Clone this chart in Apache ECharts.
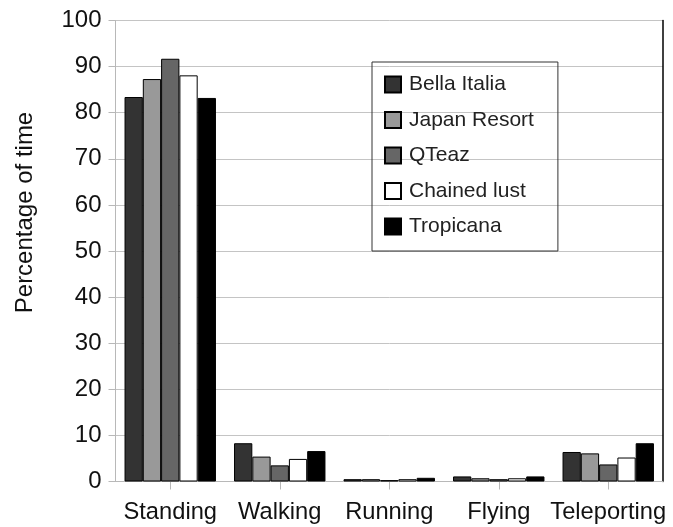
<!DOCTYPE html>
<html>
<head>
<meta charset="utf-8">
<script src="https://cdn.jsdelivr.net/npm/echarts@6/dist/echarts.min.js"></script>
<style>
html,body{margin:0;padding:0;background:#fff;}
#chart{width:673px;height:527px;}
</style>
</head>
<body>
<div id="chart"></div>
<script>
var categories = ['Standing', 'Walking', 'Running', 'Flying', 'Teleporting'];
var seriesNames = ['Bella Italia', 'Japan Resort', 'QTeaz', 'Chained lust', 'Tropicana'];
var bellaItalia = [83.4, 8.3, 0.5, 1.1, 6.4];
var japanResort = [87.3, 5.4, 0.5, 0.7, 6.1];
var qteaz = [91.7, 3.5, 0.3, 0.5, 3.7];
var chainedLust = [88.1, 4.9, 0.5, 0.7, 5.2];
var tropicana = [83.2, 6.6, 0.8, 1.1, 8.3];
var yTicks = [0, 10, 20, 30, 40, 50, 60, 70, 80, 90, 100];

var seriesValues = [bellaItalia, japanResort, qteaz, chainedLust, tropicana];
var colors = ['#333333', '#999999', '#666666', '#ffffff', '#000000'];
var font = 'Liberation Sans, Arial, sans-serif';

var chart = echarts.init(document.getElementById('chart'), null, {renderer: 'canvas'});
var series = seriesNames.map(function (name, i) {
  return {
    name: name,
    type: 'bar',
    data: seriesValues[i],
    barGap: '0%',
    barCategoryGap: '16.5%',
    itemStyle: {color: colors[i], borderColor: '#000', borderWidth: 1}
  };
});
chart.setOption({
  animation: false,
  backgroundColor: '#fff',
  grid: {left: 115.5, right: 10, top: 20.5, bottom: 45.5, containLabel: false},
  legend: {
    orient: 'vertical',
    left: 372,
    top: 62,
    itemWidth: 16,
    itemHeight: 16,
    itemGap: 14.5,
    padding: [12, 24, 14, 12],
    borderColor: '#333',
    borderWidth: 1,
    icon: 'rect',
    textStyle: {fontSize: 21, color: '#222', fontFamily: font, padding: [0, 0, 0, 3]},
    data: seriesNames
  },
  xAxis: {
    type: 'category',
    data: categories,
    axisLine: {show: true, lineStyle: {color: '#b8b8b8', width: 1}},
    axisTick: {show: true, alignWithLabel: true, length: 8, lineStyle: {color: '#b8b8b8'}},
    axisLabel: {fontSize: 23.7, color: '#111', fontFamily: font, margin: 19, interval: 0}
  },
  yAxis: [{
    type: 'value',
    min: yTicks[0],
    max: yTicks[yTicks.length - 1],
    interval: yTicks[1] - yTicks[0],
    name: 'Percentage of time',
    nameLocation: 'middle',
    nameGap: 78,
    nameTextStyle: {fontSize: 24, color: '#111', fontFamily: font, padding: [0, 0, 0, 77]},
    axisLine: {show: true, lineStyle: {color: '#b8b8b8', width: 1}},
    axisTick: {show: true, length: 7, lineStyle: {color: '#b8b8b8'}},
    axisLabel: {fontSize: 24, color: '#111', fontFamily: font, margin: 14},
    splitLine: {show: true, lineStyle: {color: '#c4c4c4', width: 1}}
  }, {
    type: 'value',
    position: 'right',
    min: yTicks[0],
    max: yTicks[yTicks.length - 1],
    interval: yTicks[1] - yTicks[0],
    axisLine: {show: true, lineStyle: {color: '#000', width: 1.5}},
    axisTick: {show: false},
    axisLabel: {show: false},
    splitLine: {show: false}
  }],
  series: series
});
</script>
</body>
</html>
